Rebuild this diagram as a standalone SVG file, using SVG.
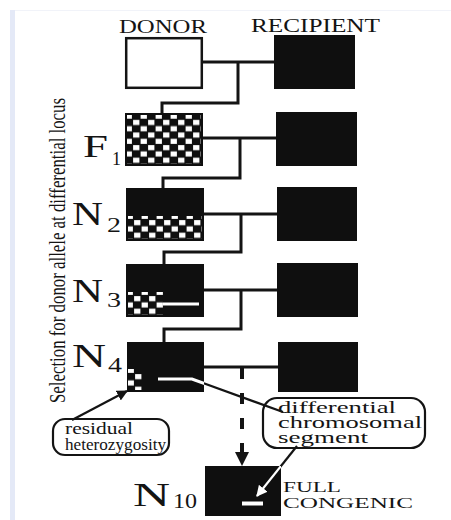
<svg xmlns="http://www.w3.org/2000/svg" width="451" height="520" viewBox="0 0 451 520">
  <style>
    .lbl{font-family:"Liberation Serif","Times New Roman",serif;fill:#141414}
    .box{fill:#0f0f0f}
    .wire{stroke:#141414;stroke-width:3;fill:none;stroke-linecap:square}
    .dash{stroke:#141414;stroke-width:4;fill:none;stroke-dasharray:11 14}
    .hl{stroke:#fff;stroke-width:3;fill:none}
    .ptr{stroke:#141414;stroke-width:2.2;fill:none}
    .bubble{fill:#fff;stroke:#141414;stroke-width:2.2}
  </style>
  <defs>
    <!-- checkered donor/recipient mix -->
    <pattern id="chk" patternUnits="userSpaceOnUse" x="0" y="0" width="15" height="12.6">
      <rect width="15" height="12.6" fill="#0f0f0f"/>
      <rect x="0.6" y="0.6" width="6.3" height="5.1" fill="#fff"/>
      <rect x="8.1" y="6.9" width="6.3" height="5.1" fill="#fff"/>
    </pattern>
    <marker id="head" viewBox="0 0 10 10" refX="9" refY="5" markerWidth="5" markerHeight="5" orient="auto" markerUnits="strokeWidth">
      <path d="M0,0 L10,5 L0,10 Z" fill="#141414"/>
    </marker>
    <marker id="headW" viewBox="0 0 10 10" refX="9" refY="5" markerWidth="5" markerHeight="5" orient="auto" markerUnits="strokeWidth">
      <path d="M0,0 L10,5 L0,10 Z" fill="#fff"/>
    </marker>
    <clipPath id="inN4"><rect x="127" y="342" width="77" height="50"/></clipPath>
    <clipPath id="outN4"><path d="M0,0H451V520H0Z M127,342V392H204V342Z" clip-rule="evenodd"/></clipPath>
    <clipPath id="inN10"><rect x="205" y="466" width="76" height="50"/></clipPath>
    <clipPath id="outN10"><path d="M0,0H451V520H0Z M205,466V516H281V466Z" clip-rule="evenodd"/></clipPath>
  </defs>

  <rect width="451" height="520" fill="#fff"/>
  <rect x="10" y="10" width="441" height="1" fill="#f1f3f9"/>
  <rect x="10" y="10" width="5" height="510" fill="#e4e9f7"/>

  <!-- vertical caption -->
  <text class="lbl" font-size="16" textLength="305" lengthAdjust="spacingAndGlyphs"
        transform="translate(65,403) scale(1.45,1) rotate(-90)">Selection for donor allele at differential locus</text>

  <text class="lbl" x="119" y="33" font-size="18" textLength="88" lengthAdjust="spacingAndGlyphs">DONOR</text>
  <text class="lbl" x="251" y="32" font-size="18" textLength="129" lengthAdjust="spacingAndGlyphs">RECIPIENT</text>

  <!-- mating lines -->
  <g id="connectors">
    <path class="wire" d="M202,62H274 M238,62V103H162V113"/>
    <path class="wire" d="M203,138H276 M240,138V178H163V188"/>
    <path class="wire" d="M204,214H277 M241,214V252H164V264"/>
    <path class="wire" d="M204,290H277 M241,290V329H164V342"/>
    <path class="wire" d="M204,367H278"/>
    <path class="dash" d="M242,368V452"/>
    <path d="M235,452H249L242,466Z" fill="#141414"/>
  </g>

  <g id="donor">
    <rect x="126.2" y="38.2" width="75.6" height="49.6" fill="#fff" stroke="#141414" stroke-width="2.5"/>
  </g>
  <g id="recipient">
    <rect class="box" x="274" y="35" width="81" height="54"/>
  </g>

  <g id="f1" transform="translate(125,113)">
    <rect class="box" width="78" height="53"/>
    <rect x="2" y="2" width="74" height="49" fill="url(#chk)"/>
    <text class="lbl" x="-42" y="44" font-size="31" textLength="25" lengthAdjust="spacingAndGlyphs">F</text>
    <text class="lbl" x="-13" y="52" font-size="19" textLength="9" lengthAdjust="spacingAndGlyphs">1</text>
  </g>
  <g id="f1-recipient">
    <rect class="box" x="276" y="112" width="81" height="54"/>
  </g>

  <g id="n2" transform="translate(126,188)">
    <rect class="box" width="78" height="53"/>
    <rect x="2" y="28" width="74" height="23" fill="url(#chk)"/>
    <text class="lbl" x="-54" y="37" font-size="33" textLength="31" lengthAdjust="spacingAndGlyphs">N</text>
    <text class="lbl" x="-19" y="44" font-size="20" textLength="14" lengthAdjust="spacingAndGlyphs">2</text>
  </g>
  <g id="n2-recipient">
    <rect class="box" x="277" y="187" width="80" height="54"/>
  </g>

  <g id="n3" transform="translate(126,264)">
    <rect class="box" width="78" height="53"/>
    <rect x="2" y="28" width="35" height="23" fill="url(#chk)"/>
    <path class="hl" d="M37,40H73"/>
    <text class="lbl" x="-54" y="38" font-size="33" textLength="31" lengthAdjust="spacingAndGlyphs">N</text>
    <text class="lbl" x="-19" y="43" font-size="20" textLength="14" lengthAdjust="spacingAndGlyphs">3</text>
  </g>
  <g id="n3-recipient">
    <rect class="box" x="277" y="263" width="81" height="54"/>
  </g>

  <g id="n4" transform="translate(127,342)">
    <rect class="box" width="77" height="50"/>
    <rect x="1" y="27" width="14" height="21" fill="url(#chk)"/>
    <text class="lbl" x="-55" y="25" font-size="33" textLength="34" lengthAdjust="spacingAndGlyphs">N</text>
    <text class="lbl" x="-19" y="30" font-size="20" textLength="14" lengthAdjust="spacingAndGlyphs">4</text>
  </g>
  <g id="n4-recipient">
    <rect class="box" x="278" y="342" width="80" height="50"/>
  </g>

  <g id="n10">
    <rect class="box" x="205" y="466" width="76" height="50"/>
    <path d="M242,503.5H263" stroke="#fff" stroke-width="4"/>
    <text class="lbl" x="133" y="506" font-size="34" textLength="37" lengthAdjust="spacingAndGlyphs">N</text>
    <text class="lbl" x="173" y="508" font-size="20" textLength="24" lengthAdjust="spacingAndGlyphs">10</text>
    <text class="lbl" x="283" y="492" font-size="15" textLength="58" lengthAdjust="spacingAndGlyphs">FULL</text>
    <text class="lbl" x="283" y="508" font-size="15" textLength="130" lengthAdjust="spacingAndGlyphs">CONGENIC</text>
  </g>

  <!-- callouts -->
  <g id="residual">
    <rect class="bubble" x="53" y="419" width="116" height="36" rx="12"/>
    <text class="lbl" x="65" y="434" font-size="17" textLength="68" lengthAdjust="spacingAndGlyphs">residual</text>
    <text class="lbl" x="65" y="450" font-size="17" textLength="101" lengthAdjust="spacingAndGlyphs">heterozygosity</text>
    <path class="ptr" d="M72,420L127,391" marker-end="url(#head)"/>
  </g>

  <g id="differential">
    <rect class="bubble" x="263" y="398" width="162" height="50" rx="14"/>
    <text class="lbl" x="278" y="413" font-size="17" textLength="118" lengthAdjust="spacingAndGlyphs">differential</text>
    <text class="lbl" x="278" y="428" font-size="17" textLength="144" lengthAdjust="spacingAndGlyphs">chromosomal</text>
    <text class="lbl" x="278" y="443" font-size="17" textLength="90" lengthAdjust="spacingAndGlyphs">segment</text>
    <!-- segment marker inside N4, then leader out to the bubble -->
    <path class="hl" d="M158,379H192L283,412" clip-path="url(#inN4)"/>
    <path class="ptr" d="M192,379L283,412" clip-path="url(#outN4)"/>
    <path class="ptr" d="M297,446L257,496" marker-end="url(#head)" clip-path="url(#outN10)"/>
    <path d="M297,446L257,496" stroke="#fff" stroke-width="2.2" fill="none" marker-end="url(#headW)" clip-path="url(#inN10)"/>
  </g>
</svg>
